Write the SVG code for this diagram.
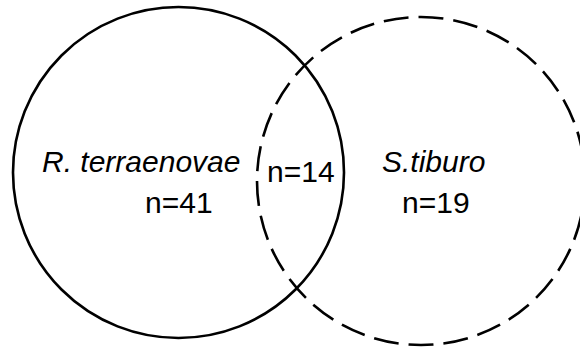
<svg xmlns="http://www.w3.org/2000/svg" width="580" height="349" viewBox="0 0 580 349">
<style>
.c{fill:none;stroke:#000;stroke-width:2.6}
.d{stroke-dasharray:25 10}
text{font-family:"Liberation Sans",Arial,sans-serif;font-size:30px;fill:#000}
.i{font-style:italic}
</style>
<rect width="580" height="349" fill="#fff"/>
<g id="set-r-terraenovae">
<circle class="c" cx="178.5" cy="172.5" r="165.5"/>
<text class="i" x="42" y="172">R. terraenovae</text>
<text x="145" y="213">n=41</text>
</g>
<g id="set-s-tiburo">
<circle class="c d" cx="421" cy="181" r="164"/>
<text class="i" x="382" y="172">S.tiburo</text>
<text x="402" y="213">n=19</text>
</g>
<g id="overlap">
<text x="267" y="182">n=14</text>
</g>
<g id="connectors"/>
</svg>
